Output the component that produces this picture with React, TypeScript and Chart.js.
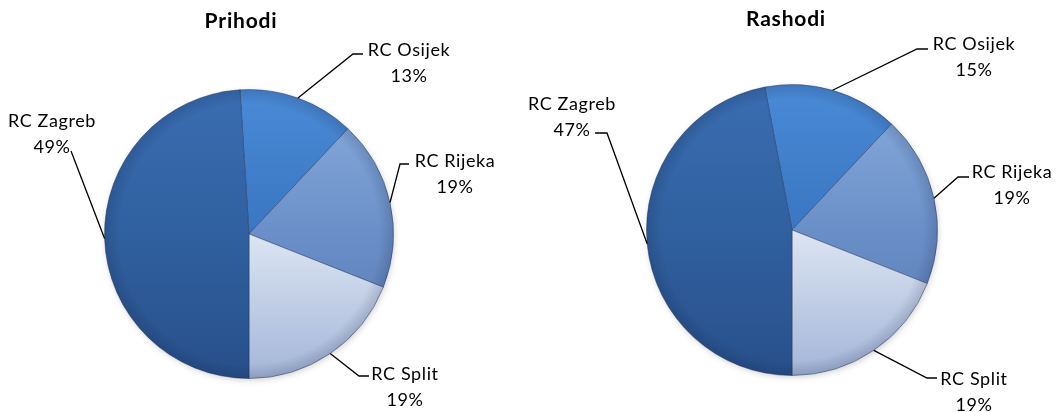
import React, { useEffect, useRef } from "react";
import { Chart, registerables } from "chart.js";

Chart.register(...registerables);

// ---- data ----
const categories = ["RC Osijek", "RC Rijeka", "RC Split", "RC Zagreb"];
const prihodiValues = [13, 19, 19, 49];
const rashodiValues = [15, 19, 19, 47];
const chartTitles = ["Prihodi", "Rashodi"];

// ---- styles ----
const sliceGradients: string[][] = [
  ["#4a8ad6", "#3a76c2", "#3062a6"],
  ["#8aadde", "#6a8fc8", "#5675ad"],
  ["#ffffff", "#dce5f2", "#a3b5d8"],
  ["#3a6db2", "#30609f", "#28508a"],
];
const FONT = "Lato, 'Open Sans', sans-serif";

type LabelLayout = { ex: number; ey: number; hx: number; tx: number; ty: number };

const leftLayout: LabelLayout[] = [
  { ex: 104, ey: -180, hx: 114, tx: 160, ty: -178 },
  { ex: 151, ey: -70, hx: 160, tx: 206, ty: -67 },
  { ex: 110, ey: 142, hx: 120, tx: 156, ty: 146 },
  { ex: -178, ey: -83, hx: -178, tx: -197, ty: -107 },
];
const rightLayout: LabelLayout[] = [
  { ex: 125, ey: -181, hx: 136, tx: 182, ty: -180 },
  { ex: 166, ey: -53, hx: 177, tx: 220, ty: -52 },
  { ex: 135, ey: 148, hx: 145, tx: 182, ty: 155 },
  { ex: -185, ey: -97, hx: -197, tx: -220, ty: -120 },
];

type PieSpec = {
  title: string;
  values: number[];
  layout: LabelLayout[];
  left: number;
  width: number;
  padding: { left: number; right: number; top: number; bottom: number };
  titleX: number;
  titleY: number;
};

const specs: PieSpec[] = [
  {
    title: chartTitles[0],
    values: prihodiValues,
    layout: leftLayout,
    left: 0,
    width: 531,
    padding: { left: 104, right: 137, top: 89, bottom: 33 },
    titleX: 241,
    titleY: 28,
  },
  {
    title: chartTitles[1],
    values: rashodiValues,
    layout: rightLayout,
    left: 500,
    width: 563,
    padding: { left: 146, right: 125, top: 84, bottom: 36 },
    titleX: 286,
    titleY: 26,
  },
];

function PieChart({ spec }: { spec: PieSpec }) {
  const ref = useRef<HTMLCanvasElement | null>(null);
  useEffect(() => {
    if (!ref.current) return;
    const total = spec.values.reduce((a, b) => a + b, 0);
    const firstThree = spec.values.slice(0, 3).reduce((a, b) => a + b, 0);
    const rotation = 180 - (360 * firstThree) / total;

    const decor = {
      id: "decor",
      beforeDatasetsDraw(chart: any) {
        const meta = chart.getDatasetMeta(0);
        const a = meta.data[0];
        if (!a) return;
        const ctx = chart.ctx;
        ctx.save();
        ctx.shadowColor = "rgba(0,0,0,0.22)";
        ctx.shadowBlur = 7;
        ctx.shadowOffsetX = 1;
        ctx.shadowOffsetY = 2;
        ctx.fillStyle = "#ffffff";
        ctx.beginPath();
        ctx.arc(a.x, a.y, a.outerRadius - 1, 0, Math.PI * 2);
        ctx.fill();
        ctx.restore();
      },
      afterDatasetsDraw(chart: any) {
        const meta = chart.getDatasetMeta(0);
        const ctx = chart.ctx;
        const arcs = meta.data;
        if (!arcs.length) return;
        const cx = arcs[0].x;
        const cy = arcs[0].y;
        const r = arcs[0].outerRadius;
        // rim bevel
        ctx.save();
        const rg = ctx.createRadialGradient(cx, cy, r * 0.9, cx, cy, r);
        rg.addColorStop(0, "rgba(10,20,50,0)");
        rg.addColorStop(1, "rgba(10,20,50,0.16)");
        ctx.fillStyle = rg;
        ctx.beginPath();
        ctx.arc(cx, cy, r, 0, Math.PI * 2);
        ctx.fill();
        ctx.restore();

        // title
        ctx.save();
        ctx.fillStyle = "#000000";
        ctx.font = `bold 21px ${FONT}`;
        (ctx as any).letterSpacing = "0.8px";
        ctx.textAlign = "center";
        ctx.textBaseline = "alphabetic";
        ctx.fillText(spec.title, spec.titleX, spec.titleY);
        ctx.restore();

        // labels
        ctx.save();
        ctx.strokeStyle = "#000000";
        ctx.lineWidth = 1.3;
        ctx.fillStyle = "#000000";
        ctx.font = `18px ${FONT}`;
        (ctx as any).letterSpacing = "0.6px";
        ctx.textAlign = "center";
        ctx.textBaseline = "alphabetic";
        arcs.forEach((arc: any, i: number) => {
          const L = spec.layout[i];
          const mid = (arc.startAngle + arc.endAngle) / 2;
          const px = cx + r * Math.cos(mid);
          const py = cy + r * Math.sin(mid);
          ctx.beginPath();
          ctx.moveTo(px, py);
          ctx.lineTo(cx + L.ex, cy + L.ey);
          ctx.lineTo(cx + L.hx, cy + L.ey);
          ctx.stroke();
          const pct = Math.round((spec.values[i] / total) * 100) + "%";
          ctx.fillText(categories[i], cx + L.tx, cy + L.ty);
          ctx.fillText(pct, cx + L.tx, cy + L.ty + 26);
        });
        ctx.restore();
      },
    };

    const chart = new Chart(ref.current, {
      type: "pie",
      data: {
        labels: categories,
        datasets: [
          {
            data: spec.values,
            backgroundColor: (c: any) => {
              const stops = sliceGradients[c.dataIndex % sliceGradients.length];
              const area = c.chart.chartArea;
              if (!area) return stops[1];
              const g = c.chart.ctx.createLinearGradient(0, area.top, 0, area.bottom);
              g.addColorStop(0, stops[0]);
              g.addColorStop(0.5, stops[1]);
              g.addColorStop(1, stops[2]);
              return g;
            },
            borderColor: "rgba(30,50,90,0.45)",
            borderWidth: 1,
          },
        ],
      },
      options: {
        responsive: true,
        maintainAspectRatio: false,
        animation: false,
        rotation,
        layout: { padding: spec.padding },
        plugins: {
          legend: { display: false },
          title: { display: false },
          tooltip: { enabled: false },
        },
      },
      plugins: [decor],
    });
    return () => chart.destroy();
  }, [spec]);

  return (
    <div
      style={{
        position: "absolute",
        left: spec.left,
        top: 0,
        width: spec.width,
        height: 412,
      }}
    >
      <canvas ref={ref} />
    </div>
  );
}

export default function App() {
  return (
    <div
      style={{
        position: "absolute",
        left: 0,
        top: 0,
        width: 1063,
        height: 412,
        background: "#ffffff",
        overflow: "hidden",
      }}
    >
      {specs.map((s) => (
        <PieChart key={s.title} spec={s} />
      ))}
    </div>
  );
}
